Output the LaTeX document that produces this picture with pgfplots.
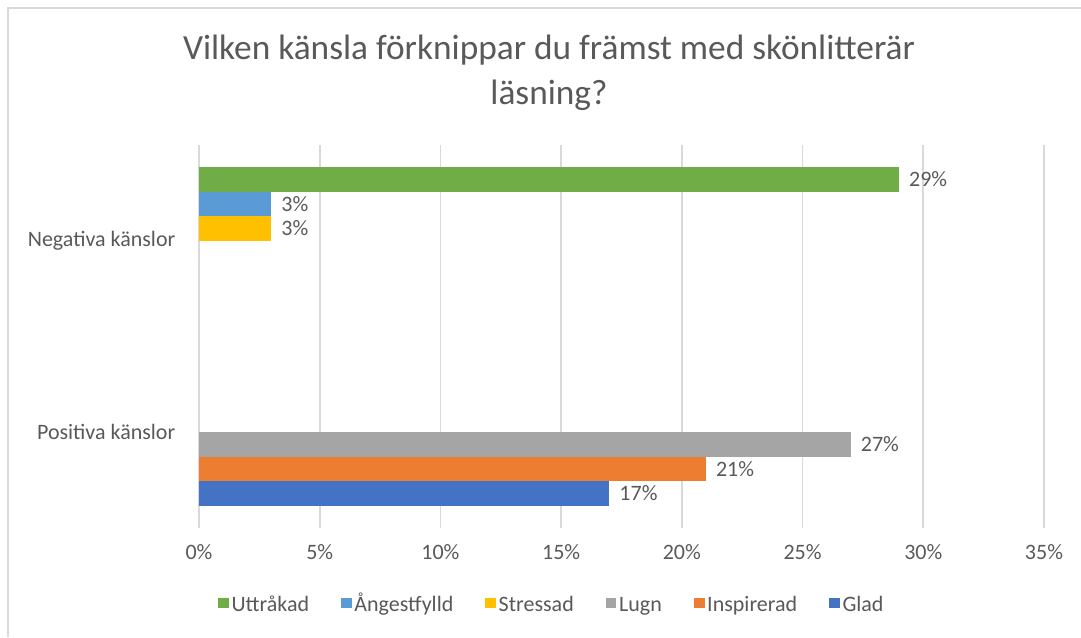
\documentclass[border=0pt]{standalone}
\usepackage{fontspec}
\setmainfont{Carlito}
\usepackage{pgfplots}
\pgfplotsset{compat=1.18}
\definecolor{cUtt}{HTML}{70AD47}
\definecolor{cAng}{HTML}{5B9BD5}
\definecolor{cStr}{HTML}{FFC000}
\definecolor{cLug}{HTML}{A5A5A5}
\definecolor{cIns}{HTML}{ED7D31}
\definecolor{cGla}{HTML}{4472C4}
\definecolor{txt}{HTML}{595959}
\definecolor{gridc}{HTML}{D9D9D9}
\begin{document}
\begin{tikzpicture}[x=1pt,y=1pt]
\useasboundingbox (0,0) rectangle (810.75,477.75);
\draw[gridc, line width=1.5pt] (6,0) -- (6,471.75) -- (810.75,471.75);
\node[align=center, text=txt, font=\fontsize{26.5}{34}\selectfont] at (411.75,423) {Vilken känsla förknippar du främst med skönlitterär\\läsning?};
\begin{axis}[
  at={(149.25pt,81.75pt)}, anchor=south west,
  scale only axis, width=633.75pt, height=287.25pt,
  xbar, bar width=0.128,
  xmin=0, xmax=35, ymin=-0.5, ymax=1.5,
  xtick={0,5,...,35},
  xticklabel={\pgfmathprintnumber{\tick}\%},
  /pgf/number format/assume math mode=true,
  ytick={0,1}, yticklabels={Positiva känslor,Negativa känslor},
  axis line style={draw=none}, tick style={draw=none},
  xmajorgrids, grid style={gridc, line width=1.2pt},
  ticklabel style={text=txt, font=\fontsize{16.5}{19}\selectfont},
  xticklabel style={yshift=-9pt},
  yticklabel style={xshift=-10pt},
  nodes near coords={\pgfmathprintnumber{\pgfplotspointmeta}\%},
  nodes near coords style={text=txt, font=\fontsize{16.5}{19}\selectfont, xshift=4pt},
  legend style={at={(0.418,-0.196)}, anchor=center, legend columns=-1, draw=none,
    font=\fontsize{16.5}{19}\selectfont, text=txt,
    /tikz/every even column/.append style={column sep=22pt}},
  legend image code/.code={\fill[#1] (0pt,-4pt) rectangle (8pt,4pt);},
]
\addplot[fill=cUtt, draw=none, bar shift=0.32] coordinates {(29,1)};
\addplot[fill=cAng, draw=none, bar shift=0.192] coordinates {(3,1)};
\addplot[fill=cStr, draw=none, bar shift=0.064] coordinates {(3,1)};
\addplot[fill=cLug, draw=none, bar shift=-0.064] coordinates {(27,0)};
\addplot[fill=cIns, draw=none, bar shift=-0.192] coordinates {(21,0)};
\addplot[fill=cGla, draw=none, bar shift=-0.32] coordinates {(17,0)};
\legend{\vphantom{Åg}Uttråkad,\vphantom{Åg}Ångestfylld,\vphantom{Åg}Stressad,\vphantom{Åg}Lugn,\vphantom{Åg}Inspirerad,\vphantom{Åg}Glad}
\end{axis}
\end{tikzpicture}
\end{document}
